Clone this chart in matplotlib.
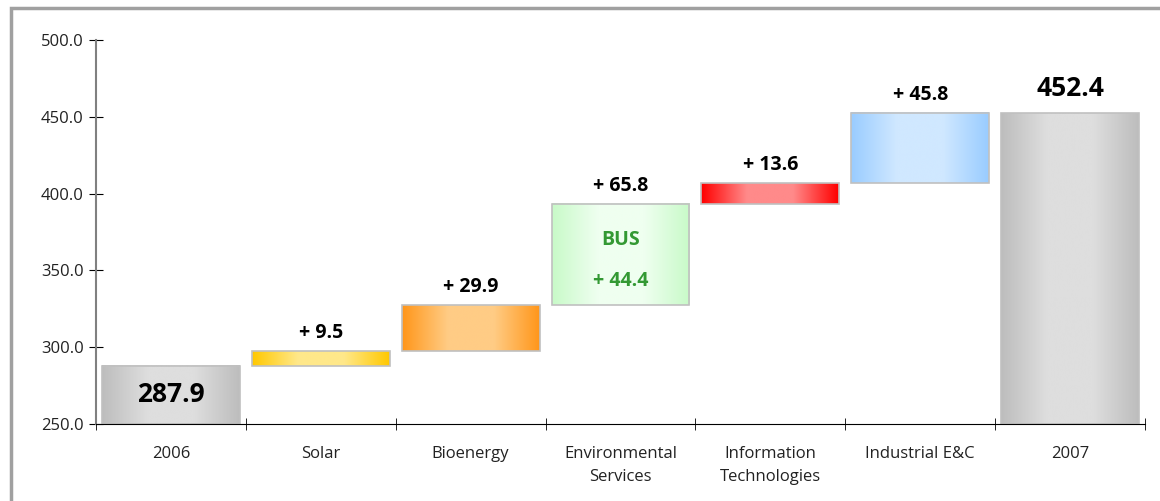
import numpy as np
import matplotlib.pyplot as plt
from matplotlib.colors import LinearSegmentedColormap
from matplotlib.patches import Rectangle

plt.rcParams['font.family'] = ['Open Sans', 'DejaVu Sans']

categories = ['2006', 'Solar', 'Bioenergy', 'Environmental\nServices',
              'Information\nTechnologies', 'Industrial E&C', '2007']
start_total = 287.9
deltas = [9.5, 29.9, 65.8, 13.6, 45.8]
end_total = 452.4
bus_delta = 44.4

# (edge colour, centre colour) per bar
bar_colors = [('#bdbdbd', '#dedede'),
              ('#ffc800', '#ffe88a'),
              ('#ff961a', '#ffcc85'),
              ('#c8fac8', '#effff0'),
              ('#ff0000', '#ff8a8a'),
              ('#99ccff', '#d0e8ff'),
              ('#bdbdbd', '#dedede')]

width = 0.92
green = '#339933'


def gradient_bar(ax, x, bottom, top, edge, centre):
    cmap = LinearSegmentedColormap.from_list('g', [edge, centre, centre, edge])
    grad = np.linspace(0, 1, 256).reshape(1, -1)
    ax.imshow(grad, cmap=cmap, aspect='auto', interpolation='bicubic',
              extent=(x - width / 2, x + width / 2, bottom, top), zorder=2)
    ax.add_patch(Rectangle((x - width / 2, bottom), width, top - bottom,
                           fill=False, edgecolor='#c0c0c0', lw=1.2, zorder=3))


fig = plt.figure(figsize=(11.6, 5.01), dpi=100)
fig.patches.append(Rectangle((0.0095, -0.1), 1.1, 1.084, transform=fig.transFigure,
                             fill=False, edgecolor='#a0a0a0', lw=2.5))
ax = fig.add_axes([0.0828, 0.1537, 0.9042, 0.7665])

x = np.arange(len(categories))
bottoms = [250.0]
tops = [start_total]
level = start_total
for d in deltas:
    bottoms.append(level)
    level += d
    tops.append(level)
bottoms.append(250.0)
tops.append(end_total)

for i in x:
    gradient_bar(ax, i, bottoms[i], tops[i], *bar_colors[i])

# labels
ax.text(0, (250 + start_total) / 2, f'{start_total:.1f}', ha='center', va='center',
        fontsize=19, fontweight='bold', zorder=4)
for i, d in enumerate(deltas, start=1):
    ax.text(i, tops[i] + 8.5, f'+ {d:.1f}', ha='center', va='baseline',
            fontsize=14, fontweight='bold', zorder=4)
ax.text(6, tops[6] + 11, f'{end_total:.1f}', ha='center', va='baseline',
        fontsize=19, fontweight='bold', zorder=4)
env = 3
ax.text(env, tops[env] - 23, 'BUS', ha='center', va='center', color=green,
        fontsize=14, fontweight='bold', zorder=4)
ax.text(env, tops[env] - 50, f'+ {bus_delta:.1f}', ha='center', va='center',
        color=green, fontsize=14, fontweight='bold', zorder=4)

ax.set_xlim(-0.5, 6.5)
ax.set_ylim(250, 500)
ax.set_yticks(np.arange(250, 501, 50))
ax.set_yticklabels([f'{v:.1f}' for v in np.arange(250, 501, 50)])
ax.set_xticks(x)
ax.set_xticklabels(categories, linespacing=1.6)
ax.set_xticks(np.arange(-0.5, 6.6, 1), minor=True)
ax.tick_params(axis='x', which='major', length=0, pad=16, labelsize=12, colors='#222222')
ax.tick_params(axis='x', which='minor', length=8, direction='inout', color='black')
ax.tick_params(axis='y', length=10, direction='inout', labelsize=12, pad=4,
               colors='#222222')
ax.tick_params(axis='y', color='black')
for s in ['top', 'right']:
    ax.spines[s].set_visible(False)
ax.spines['left'].set_color('#808080')
ax.spines['left'].set_linewidth(1.5)
ax.spines['bottom'].set_color('black')
ax.spines['bottom'].set_zorder(5)

fig.savefig('out.png', dpi=100)
